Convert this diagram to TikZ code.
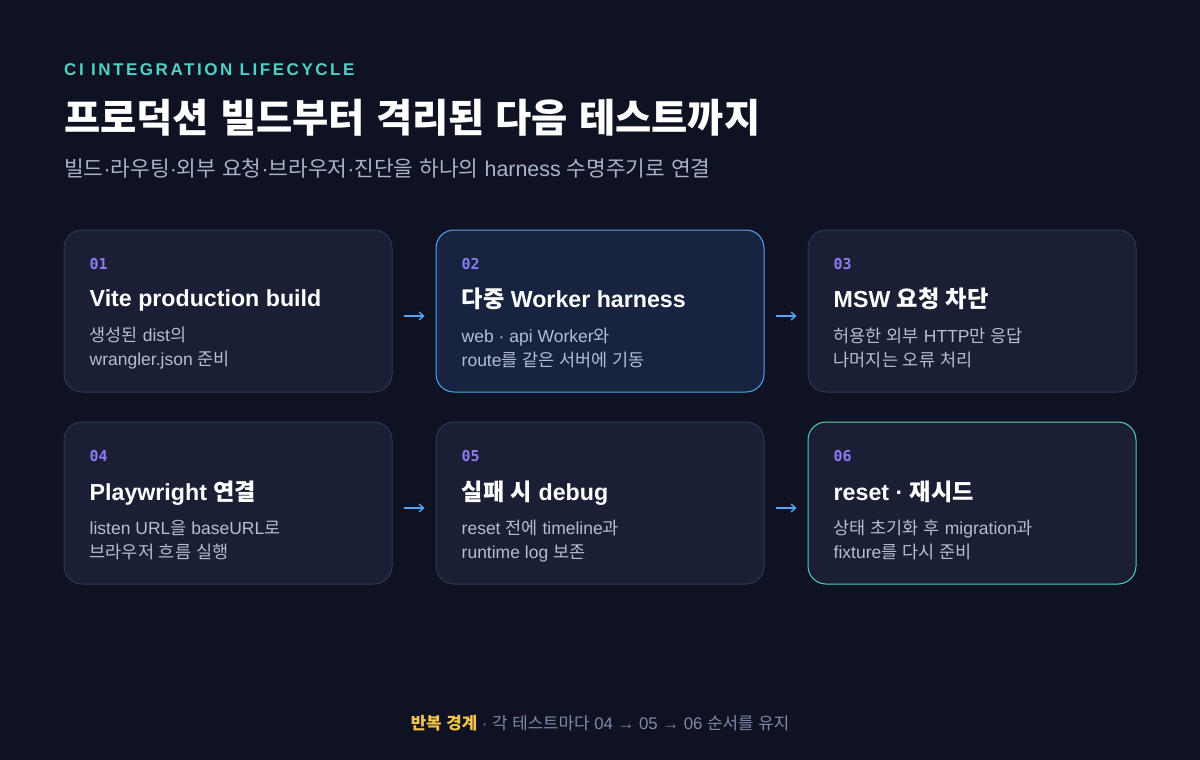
\documentclass[tikz,border=0pt]{standalone}
\usepackage{fontspec}
\usetikzlibrary{positioning, calc, arrows.meta}

\setmainfont{Liberation Sans}
\newfontfamily\latfont{Liberation Sans}
\newfontfamily\krfont{Noto Sans CJK KR}
\newfontfamily\numfont{DejaVu Sans Mono}
\newfontfamily\capsfont{Liberation Sans}[LetterSpace=15]

% Hangul falls back to the CJK family
\XeTeXinterchartokenstate=1
\newXeTeXintercharclass\hangulclass
\newcount\hcode
\hcode="AC00
\loop
  \XeTeXcharclass\hcode=\hangulclass
  \advance\hcode by 1
\ifnum\hcode<"D7A4 \repeat
\XeTeXinterchartoks 0 \hangulclass = {\krfont}
\XeTeXinterchartoks 4095 \hangulclass = {\krfont}
\XeTeXinterchartoks \hangulclass 0 = {\latfont}
\XeTeXinterchartoks \hangulclass 4095 = {\latfont}

\definecolor{bg}{HTML}{0F1222}
\definecolor{cardfill}{HTML}{1A1F35}
\definecolor{cardline}{HTML}{2F3854}
\definecolor{hotfill}{HTML}{17233F}
\definecolor{flowblue}{HTML}{4EA8F5}
\definecolor{tealline}{HTML}{4FD1C5}
\definecolor{numpurple}{HTML}{8B7CF6}
\definecolor{subgrey}{HTML}{B4BDD4}
\definecolor{leadgrey}{HTML}{A9B2CB}
\definecolor{footgrey}{HTML}{7F89A8}
\definecolor{warnyellow}{HTML}{F5C451}

\begin{document}
\begin{tikzpicture}[
    x=1pt, y=-1pt,
    card/.style={
      draw=cardline, fill=cardfill, rounded corners=18pt, line width=1pt,
      minimum width=328pt, minimum height=162pt, inner sep=0pt
    },
    hotcard/.style={card, draw=flowblue, fill=hotfill},
    donecard/.style={card, draw=tealline},
    num/.style={
      anchor=base west, inner sep=0pt, text=numpurple,
      font=\numfont\bfseries\fontsize{15}{15}\selectfont
    },
    head/.style={
      anchor=base west, inner sep=0pt, text=white,
      font=\bfseries\fontsize{23.2}{23.2}\selectfont
    },
    sub/.style={
      anchor=base west, inner sep=0pt, text=subgrey,
      font=\fontsize{17.5}{17.5}\selectfont
    },
    flow/.style={
      draw=flowblue, line width=1.3pt, -{Straight Barb[length=4.5pt,width=8pt]},
      shorten <=11pt, shorten >=11pt
    },
  ]
    % canvas
    \fill [bg] (0,0) rectangle (1200,760);

    % header
    \node [anchor=base west, inner sep=0pt, text=tealline,
      font=\capsfont\bfseries\fontsize{17}{17}\selectfont] (kicker) at (64,76)
      {CI INTEGRATION LIFECYCLE};
    \node [anchor=base west, inner sep=0pt, text=white,
      font=\bfseries\fontsize{39.4}{39.4}\selectfont] (title) at (64,132)
      {프로덕션 빌드부터 격리된 다음 테스트까지};
    \node [anchor=base west, inner sep=0pt, text=leadgrey,
      font=\fontsize{21.4}{21.4}\selectfont] (lead) at (64,176)
      {빌드·라우팅·외부 요청·브라우저·진단을 하나의 harness 수명주기로 연결};

    % Row 1
    \node [card] (c1) at (228,311) {};
    \node [num] (n1) at ($(c1.north west)+(26,40)$) {01};
    \node [head] (h1) at ($(c1.north west)+(26,77)$) {Vite production build};
    \node [sub] (s1a) at ($(c1.north west)+(26,112)$) {생성된 dist의};
    \node [sub] (s1b) at ($(c1.north west)+(26,136)$) {wrangler.json 준비};

    \node [hotcard] (c2) at (600,311) {};
    \node [num] (n2) at ($(c2.north west)+(26,40)$) {02};
    \node [head] (h2) at ($(c2.north west)+(26,78)$) {다중 Worker harness};
    \node [sub] (s2a) at ($(c2.north west)+(26,113)$) {web · api Worker와};
    \node [sub] (s2b) at ($(c2.north west)+(26,137)$) {route를 같은 서버에 기동};

    \node [card] (c3) at (972,311) {};
    \node [num] (n3) at ($(c3.north west)+(26,40)$) {03};
    \node [head] (h3) at ($(c3.north west)+(26,78)$) {MSW 요청 차단};
    \node [sub] (s3a) at ($(c3.north west)+(26,113)$) {허용한 외부 HTTP만 응답};
    \node [sub] (s3b) at ($(c3.north west)+(26,137)$) {나머지는 오류 처리};

    % Row 2
    \node [card] (c4) at (228,503) {};
    \node [num] (n4) at ($(c4.north west)+(26,40)$) {04};
    \node [head] (h4) at ($(c4.north west)+(26,79)$) {Playwright 연결};
    \node [sub] (s4a) at ($(c4.north west)+(26,113)$) {listen URL을 baseURL로};
    \node [sub] (s4b) at ($(c4.north west)+(26,137)$) {브라우저 흐름 실행};

    \node [card] (c5) at (600,503) {};
    \node [num] (n5) at ($(c5.north west)+(26,40)$) {05};
    \node [head] (h5) at ($(c5.north west)+(26,79)$) {실패 시 debug};
    \node [sub] (s5a) at ($(c5.north west)+(26,113)$) {reset 전에 timeline과};
    \node [sub] (s5b) at ($(c5.north west)+(26,137)$) {runtime log 보존};

    \node [donecard] (c6) at (972,503) {};
    \node [num] (n6) at ($(c6.north west)+(26,40)$) {06};
    \node [head] (h6) at ($(c6.north west)+(26,79)$) {reset · 재시드};
    \node [sub] (s6a) at ($(c6.north west)+(26,113)$) {상태 초기화 후 migration과};
    \node [sub] (s6b) at ($(c6.north west)+(26,137)$) {fixture를 다시 준비};

    % steps
    \draw [flow] ([yshift=-5pt]c1.east) -- ([yshift=-5pt]c2.west);
    \draw [flow] ([yshift=-5pt]c2.east) -- ([yshift=-5pt]c3.west);
    \draw [flow] ([yshift=-5pt]c4.east) -- ([yshift=-5pt]c5.west);
    \draw [flow] ([yshift=-5pt]c5.east) -- ([yshift=-5pt]c6.west);

    % footer
    \node [anchor=base, inner sep=0pt, text=footgrey,
      font=\fontsize{16.8}{16.8}\selectfont] (footer) at (600,729)
      {\textcolor{warnyellow}{\bfseries 반복 경계} · 각 테스트마다 04 → 05 → 06 순서를 유지};
  \end{tikzpicture}
\end{document}
